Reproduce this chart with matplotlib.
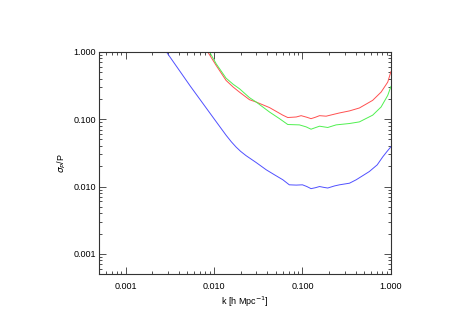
import matplotlib
matplotlib.use("agg")
import matplotlib.pyplot as plt
from matplotlib.ticker import LogLocator, NullFormatter

# values
k_blue = [0.0029, 0.0054, 0.0101, 0.0137, 0.0157, 0.0178, 0.020, 0.023, 0.030,
          0.039, 0.048, 0.060, 0.071, 0.085, 0.100, 0.112, 0.125, 0.140, 0.156,
          0.175, 0.193, 0.230, 0.262, 0.340, 0.405, 0.57, 0.70, 0.81, 0.90, 1.0]
err_blue = [1.0, 0.31, 0.100, 0.0578, 0.0462, 0.0385, 0.0333, 0.0288, 0.0227,
            0.0177, 0.0150, 0.0126, 0.0106, 0.0105, 0.0106, 0.0100, 0.0093,
            0.0096, 0.0100, 0.0097, 0.0095, 0.0102, 0.0106, 0.0112, 0.0126,
            0.0167, 0.021, 0.0277, 0.033, 0.039]

k_red = [0.0085, 0.0106, 0.0137, 0.0165, 0.0194, 0.0252, 0.030, 0.0424, 0.0599,
         0.0682, 0.085, 0.0966, 0.112, 0.125, 0.140, 0.156, 0.185, 0.230, 0.262,
         0.340, 0.44, 0.622, 0.774, 0.92, 1.0]
err_red = [1.0, 0.628, 0.377, 0.300, 0.253, 0.195, 0.180, 0.149, 0.115, 0.106,
           0.108, 0.113, 0.107, 0.102, 0.107, 0.113, 0.111, 0.119, 0.124, 0.133,
           0.147, 0.191, 0.253, 0.356, 0.51]

k_green = [0.0089, 0.0106, 0.0137, 0.0165, 0.0194, 0.0252, 0.030, 0.0424, 0.055,
           0.0682, 0.0924, 0.110, 0.125, 0.140, 0.156, 0.193, 0.240, 0.340, 0.44,
           0.622, 0.774, 0.92, 1.0]
err_green = [1.0, 0.665, 0.407, 0.330, 0.284, 0.209, 0.180, 0.128, 0.102,
             0.0835, 0.0824, 0.077, 0.0711, 0.075, 0.0788, 0.0754, 0.0824,
             0.0864, 0.0913, 0.115, 0.152, 0.226, 0.307]

decades = [0.001, 0.010, 0.100, 1.000]
decade_labels = ["0.001", "0.010", "0.100", "1.000"]


def plot_errors():
    plt.rcParams['font.family'] = ['Liberation Sans', 'DejaVu Sans']
    fig = plt.figure(figsize=(4.71, 3.33), dpi=100)
    ax = fig.add_axes([0.21, 0.177, 0.62, 0.667])

    ax.plot(k_red, err_red, color='#ff5050', lw=0.7)
    ax.plot(k_green, err_green, color='#50f050', lw=0.7)
    ax.plot(k_blue, err_blue, color='#5050ff', lw=0.7)

    ax.set_xscale('log')
    ax.set_yscale('log')
    ax.set_xlim(0.0005, 1.0)
    ax.set_ylim(0.0005, 1.0)

    ax.set_xticks(decades, decade_labels)
    ax.set_yticks(decades, decade_labels)
    for axis in (ax.xaxis, ax.yaxis):
        axis.set_minor_locator(LogLocator(base=10, subs=range(2, 10)))
        axis.set_minor_formatter(NullFormatter())

    ax.tick_params(which='both', direction='in', top=True, right=True,
                   color='#333333', width=0.6, labelsize=6.5)
    ax.tick_params(which='major', length=5)
    ax.tick_params(which='minor', length=2.5)
    ax.tick_params(axis='x', pad=6)
    ax.tick_params(axis='y', pad=2)
    for sp in ax.spines.values():
        sp.set_linewidth(0.8)
        sp.set_color('#333333')

    ax.set_xlabel(r"k [h Mpc$^{-1}$]", fontsize=6.5, labelpad=2)
    ax.set_ylabel(r"$\sigma_P$/P", fontsize=6.5, labelpad=4)

    plt.savefig("out.png", dpi=100)


if __name__ == '__main__':
    plot_errors()
